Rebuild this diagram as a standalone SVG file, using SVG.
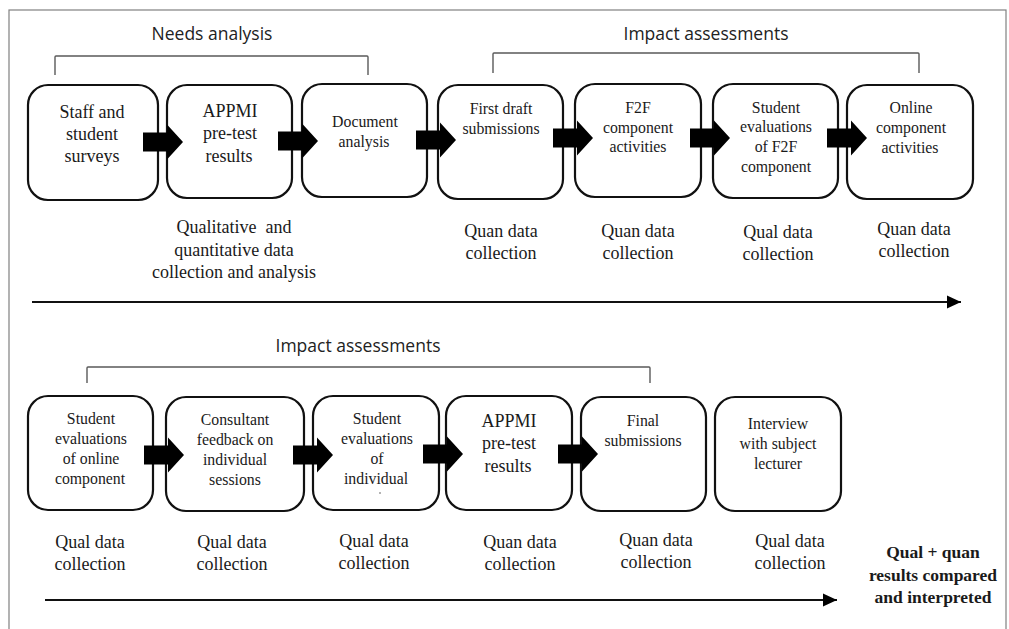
<svg xmlns="http://www.w3.org/2000/svg" width="1009" height="629" viewBox="0 0 1009 629">
<defs>
<style>
.frame{fill:#fff;stroke:#808080;stroke-width:1.2}
.box{fill:#fff;stroke:#111;stroke-width:2.2}
.br{fill:none;stroke:#5a5a5a;stroke-width:1.4}
.blk{fill:#000}
.tl{stroke:#111;stroke-width:2;fill:none}
text{font-family:"Liberation Serif","Times New Roman",serif;fill:#1a1a1a;text-anchor:middle}
.s{font-size:15.8px}
.l{font-size:18px}
.h{font-family:"Open Sans","Liberation Sans",sans-serif;font-size:17.5px;fill:#222}
.b{font-size:17.5px;font-weight:bold}
</style>
<path id="ba" d="M0,-9.5 H24 V-17.5 L40,0 L24,17.5 V9.5 H0 Z"/>
<marker id="ah" markerWidth="14" markerHeight="14" refX="14" refY="7" orient="auto" markerUnits="userSpaceOnUse">
<path d="M0,0.5 L14,7 L0,13.5 Z" fill="#000"/>
</marker>
</defs>
<rect x="0" y="0" width="1009" height="629" fill="#fff"/>
<rect class="frame" x="9" y="10" width="997" height="640"/>

<g id="labels-top">
<text class="h" x="212" y="40">Needs analysis</text>
<text class="h" x="706" y="40">Impact assessments</text>
<text class="h" x="358" y="352">Impact assessments</text>
</g>

<g id="connectors">
<path class="br" d="M55,75 V57 Q55,56 56,56 H367 Q368,56 368,57 V75"/>
<path class="br" d="M493,73 V54 Q493,53 494,53 H918 Q919,53 919,54 V73"/>
<path class="br" d="M87,383 V368 Q87,367 88,367 H649 Q650,367 650,368 V383"/>
<line class="tl" x1="32" y1="302" x2="961" y2="302" marker-end="url(#ah)"/>
<line class="tl" x1="45" y1="600" x2="837" y2="600" marker-end="url(#ah)"/>
</g>

<g id="n1"><rect class="box" x="28" y="85" width="130" height="115" rx="20"/>
<text class="l" x="92" y="118">Staff and</text><text class="l" x="92" y="140">student</text><text class="l" x="92" y="162">surveys</text></g>
<g id="n2"><rect class="box" x="167" y="85" width="125" height="113" rx="20"/>
<text class="l" x="230" y="117">APPMI</text><text class="l" x="230" y="139">pre-test</text><text class="l" x="229" y="162">results</text></g>
<g id="n3"><rect class="box" x="302" y="84" width="125" height="113" rx="20"/>
<text class="s" x="365" y="127">Document</text><text class="s" x="364" y="147">analysis</text></g>
<g id="n4"><rect class="box" x="438" y="85" width="125" height="114" rx="20"/>
<text class="s" x="501" y="114">First draft</text><text class="s" x="501" y="134">submissions</text></g>
<g id="n5"><rect class="box" x="575" y="84" width="126" height="113" rx="20"/>
<text class="s" x="638" y="113">F2F</text><text class="s" x="638" y="133">component</text><text class="s" x="638" y="152">activities</text></g>
<g id="n6"><rect class="box" x="713" y="84" width="125" height="114" rx="20"/>
<text class="s" x="776" y="113">Student</text><text class="s" x="776" y="132">evaluations</text><text class="s" x="776" y="152">of F2F</text><text class="s" x="776" y="172">component</text></g>
<g id="n7"><rect class="box" x="847" y="85" width="126" height="114" rx="20"/>
<text class="s" x="911" y="113">Online</text><text class="s" x="911" y="133">component</text><text class="s" x="910" y="153">activities</text></g>

<g id="arrows-top">
<use href="#ba" class="blk" x="143" y="142"/>
<use href="#ba" class="blk" x="278" y="141"/>
<use href="#ba" class="blk" x="416" y="140"/>
<use href="#ba" class="blk" x="553" y="138"/>
<use href="#ba" class="blk" x="690" y="138"/>
<use href="#ba" class="blk" x="827" y="138"/>
</g>

<g id="labels-row1">
<text class="l" x="234" y="233">Qualitative&#160; and</text>
<text class="l" x="234" y="256">quantitative data</text>
<text class="l" x="234" y="278">collection and analysis</text>
<text class="l" x="501" y="237">Quan data</text><text class="l" x="501" y="259">collection</text>
<text class="l" x="638" y="237">Quan data</text><text class="l" x="638" y="259">collection</text>
<text class="l" x="778" y="238">Qual data</text><text class="l" x="778" y="260">collection</text>
<text class="l" x="914" y="235">Quan data</text><text class="l" x="914" y="257">collection</text>
</g>

<g id="m1"><rect class="box" x="28" y="396" width="125" height="114" rx="20"/>
<text class="s" x="91" y="424">Student</text><text class="s" x="91" y="444">evaluations</text><text class="s" x="91" y="464">of online</text><text class="s" x="90" y="484">component</text></g>
<g id="m2"><rect class="box" x="166" y="397" width="138" height="114" rx="20"/>
<text class="s" x="235" y="425">Consultant</text><text class="s" x="235" y="445">feedback on</text><text class="s" x="235" y="465">individual</text><text class="s" x="235" y="485">sessions</text></g>
<g id="m3"><rect class="box" x="313" y="396" width="126" height="114" rx="20"/>
<text class="s" x="377" y="424">Student</text><text class="s" x="377" y="444">evaluations</text><text class="s" x="377" y="464">of</text><text class="s" x="376" y="484">individual</text>
<circle cx="380" cy="493" r="0.8" fill="#555"/></g>
<g id="m4"><rect class="box" x="446" y="396" width="126" height="114" rx="20"/>
<text class="l" x="509" y="427">APPMI</text><text class="l" x="509" y="449">pre-test</text><text class="l" x="508" y="472">results</text></g>
<g id="m5"><rect class="box" x="581" y="397" width="125" height="114" rx="20"/>
<text class="s" x="643" y="426">Final</text><text class="s" x="643" y="446">submissions</text></g>
<g id="m6"><rect class="box" x="715" y="397" width="126" height="114" rx="20"/>
<text class="s" x="778" y="429">Interview</text><text class="s" x="778" y="449">with subject</text><text class="s" x="778" y="469">lecturer</text></g>

<g id="arrows-bottom">
<use href="#ba" class="blk" x="144" y="455"/>
<use href="#ba" class="blk" x="293" y="455"/>
<use href="#ba" class="blk" x="423" y="454"/>
<use href="#ba" class="blk" x="558" y="454"/>
</g>

<g id="labels-row2">
<text class="l" x="90" y="548">Qual data</text><text class="l" x="90" y="570">collection</text>
<text class="l" x="232" y="548">Qual data</text><text class="l" x="232" y="570">collection</text>
<text class="l" x="374" y="547">Qual data</text><text class="l" x="374" y="569">collection</text>
<text class="l" x="520" y="548">Quan data</text><text class="l" x="520" y="570">collection</text>
<text class="l" x="656" y="546">Quan data</text><text class="l" x="656" y="568">collection</text>
<text class="l" x="790" y="547">Qual data</text><text class="l" x="790" y="569">collection</text>
<text class="b" x="933" y="558">Qual + quan</text>
<text class="b" x="933" y="581">results compared</text>
<text class="b" x="933" y="603">and interpreted</text>
</g>
</svg>
